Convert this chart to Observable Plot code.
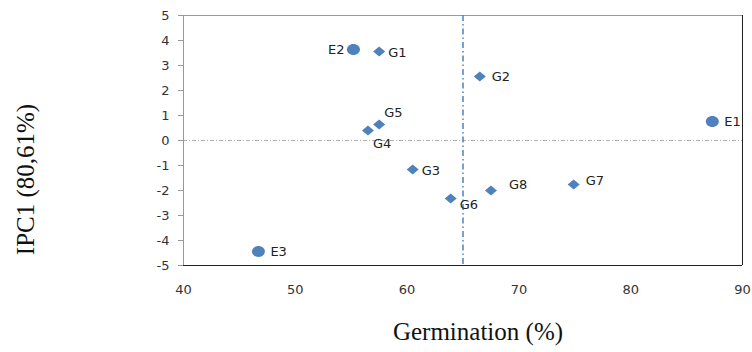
<!DOCTYPE html>
<html>
<head>
<meta charset="utf-8">
<script src="https://cdn.jsdelivr.net/npm/d3@7"></script>
<script src="https://cdn.jsdelivr.net/npm/@observablehq/plot@0.6"></script>
<style>
  html, body { margin: 0; padding: 0; background: #fff; }
</style>
</head>
<body>
<div id="chart"></div>
<script>
// Data
const names  = ["E1", "E2", "E3", "G1", "G2", "G3", "G4", "G5", "G6", "G7", "G8"];
const germ   = [87.3, 55.2, 46.7, 57.5, 66.5, 60.5, 56.5, 57.5, 63.9, 74.9, 67.5];
const ipc1   = [0.76, 3.64, -4.44, 3.56, 2.56, -1.16, 0.40, 0.64, -2.32, -1.76, -2.00];
const groups = ["E", "E", "E", "G", "G", "G", "G", "G", "G", "G", "G"];
const xTicks = [40, 50, 60, 70, 80, 90];
const yTicks = [-5, -4, -3, -2, -1, 0, 1, 2, 3, 4, 5];
const germMean = 65;
const xLabel = "Germination (%)";
const yLabel = "IPC1 (80,61%)";

const data = names.map((n, i) => ({name: n, x: germ[i], y: ipc1[i], g: groups[i]}));

const blue = "#4F81BD";

function ellipseSymbol(rx, ry) {
  const k = 0.5522848;
  return {
    draw(ctx) {
      ctx.moveTo(rx, 0);
      ctx.bezierCurveTo(rx, ry * k, rx * k, ry, 0, ry);
      ctx.bezierCurveTo(-rx * k, ry, -rx, ry * k, -rx, 0);
      ctx.bezierCurveTo(-rx, -ry * k, -rx * k, -ry, 0, -ry);
      ctx.bezierCurveTo(rx * k, -ry, rx, -ry * k, rx, 0);
      ctx.closePath();
    }
  };
}
function diamondSymbol(rx, ry) {
  return {
    draw(ctx) {
      ctx.moveTo(0, -ry);
      ctx.lineTo(rx, 0);
      ctx.lineTo(0, ry);
      ctx.lineTo(-rx, 0);
      ctx.closePath();
    }
  };
}

const labelStyle = {x: "x", y: "y", text: "name", fontSize: 13, fill: "#222", fontFamily: "'DejaVu Sans', sans-serif"};
const pick = (list) => data.filter(d => list.includes(d.name));
const serif = "'Liberation Serif', 'Times New Roman', serif";

const chart = Plot.plot({
  width: 752,
  height: 352,
  marginLeft: 183,
  marginRight: 10,
  marginTop: 15,
  marginBottom: 87,
  style: {fontFamily: "'DejaVu Sans', sans-serif", fontSize: "13px", color: "#333", background: "#fff"},
  x: {domain: [40, 90]},
  y: {domain: [-5, 5]},
  marks: [
    // frame
    Plot.ruleY([5], {stroke: "#999", strokeWidth: 1}),
    Plot.ruleX([90], {stroke: "#222", strokeWidth: 1}),
    Plot.ruleY([-5], {stroke: "#222", strokeWidth: 1}),
    Plot.ruleX([40], {stroke: "#999", strokeWidth: 1}),
    // reference lines
    Plot.ruleY([0], {stroke: "#999", strokeWidth: 0.8, strokeDasharray: "4,2,1,2"}),
    Plot.ruleX([germMean], {stroke: blue, strokeWidth: 1.5, strokeDasharray: "6,3,1.5,3"}),
    // axes
    Plot.axisY({ticks: yTicks, tickFormat: d => String(d), tickSize: 5, tickPadding: 9, stroke: "#999", fill: "#333", label: null, fontSize: 13}),
    Plot.axisX({ticks: xTicks, tickFormat: d => String(d), tickSize: 0, tickPadding: 19, fill: "#333", label: null, fontSize: 13}),
    // points
    Plot.dot(data.filter(d => d.g === "E"), {x: "x", y: "y", symbol: ellipseSymbol(6.5, 5.5), fill: blue, stroke: "none"}),
    Plot.dot(data.filter(d => d.g === "G"), {x: "x", y: "y", symbol: diamondSymbol(6, 5), fill: blue, stroke: "none"}),
    // labels
    Plot.text(pick(["E1", "E3", "G2"]), {...labelStyle, textAnchor: "start", dx: 12}),
    Plot.text(pick(["G1", "G3"]), {...labelStyle, textAnchor: "start", dx: 9, dy: 1}),
    Plot.text(pick(["E2"]), {...labelStyle, textAnchor: "end", dx: -9}),
    Plot.text(pick(["G4"]), {...labelStyle, textAnchor: "start", dx: 5, dy: 13}),
    Plot.text(pick(["G5"]), {...labelStyle, textAnchor: "start", dx: 5, dy: -12}),
    Plot.text(pick(["G6"]), {...labelStyle, textAnchor: "start", dx: 9, dy: 6}),
    Plot.text(pick(["G8"]), {...labelStyle, textAnchor: "start", dx: 18, dy: -6}),
    Plot.text(pick(["G7"]), {...labelStyle, textAnchor: "start", dx: 12, dy: -4}),
    // axis titles
    Plot.text([xLabel], {frameAnchor: "bottom", textAnchor: "middle", dx: 15, dy: 74, fontSize: 25, fill: "#111", fontFamily: serif}),
    Plot.text([yLabel], {frameAnchor: "left", textAnchor: "middle", dx: -158, dy: 39, rotate: -90, fontSize: 25, fill: "#111", fontFamily: serif})
  ]
});
document.getElementById("chart").appendChild(chart);
</script>
</body>
</html>
